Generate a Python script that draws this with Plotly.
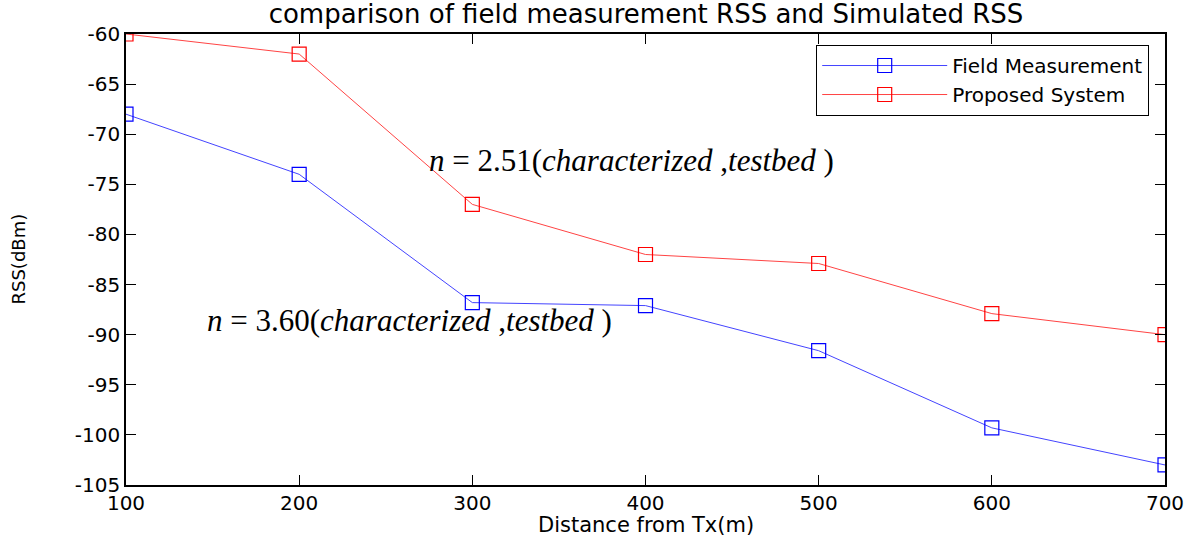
import plotly.graph_objects as go

distance = [100, 200, 300, 400, 500, 600, 700]
field_rss = [-68, -74, -86.8, -87.1, -91.6, -99.3, -103]
proposed_rss = [-60, -62, -77, -82, -82.9, -87.9, -90]
x_ticks = [100, 200, 300, 400, 500, 600, 700]
y_ticks = [-60, -65, -70, -75, -80, -85, -90, -95, -100, -105]
y_tick_labels = ["-60", "-65", "-70", "-75", "-80", "-85", "-90", "-95", "-100", "-105"]

SANS = "DejaVu Sans, Arial"
SERIF = "Liberation Serif, Times New Roman"

W, H = 1195, 536

fig = go.Figure()
fig.add_trace(go.Scatter(x=distance, y=field_rss, mode="lines+markers", name="Field Measurement",
                         line=dict(color="#4444ff", width=1),
                         marker=dict(symbol="square-open", size=14, color="#0000ff", line=dict(width=1.2))))
fig.add_trace(go.Scatter(x=distance, y=proposed_rss, mode="lines+markers", name="Proposed System",
                         line=dict(color="#ff4444", width=1),
                         marker=dict(symbol="square-open", size=14, color="#ff0000", line=dict(width=1.2))))

axis_common = dict(showline=True, linecolor="black", linewidth=1.5, mirror="ticks", ticks="inside",
                   ticklen=10, tickcolor="black", showgrid=False, zeroline=False,
                   tickfont=dict(family=SANS, size=20, color="black"))
fig.update_xaxes(range=[100, 700], tickvals=x_ticks, ticktext=[str(v) for v in x_ticks],
                 ticklabelstandoff=-1, **axis_common)
fig.update_yaxes(range=[-105, -60], tickvals=y_ticks, ticktext=y_tick_labels, **axis_common)

# axis titles
fig.add_annotation(x=0.5, y=0, xref="paper", yref="paper", yanchor="middle", yshift=-40, showarrow=False,
                   text="Distance from Tx(m)", font=dict(family=SANS, size=21, color="black"))
fig.add_annotation(x=0, y=0.5, xref="paper", yref="paper", xanchor="center", xshift=-108, showarrow=False,
                   textangle=-90, text="RSS(dBm)", font=dict(family=SANS, size=18, color="black"))

ann_font = dict(family=SERIF, size=31, color="black")
fig.add_annotation(x=392, y=-72.6, showarrow=False, font=ann_font,
                   text="<i>n</i> = 2.51(<i>characterized</i> ,<i>testbed</i> )")
fig.add_annotation(x=264, y=-88.6, showarrow=False, font=ann_font,
                   text="<i>n</i> = 3.60(<i>characterized</i> ,<i>testbed</i> )")

fig.update_layout(
    width=W, height=H,
    margin=dict(l=126, r=30, t=34, b=51),
    paper_bgcolor="white", plot_bgcolor="white",
    title=dict(text="comparison of field measurement RSS and Simulated RSS", x=646 / W, xanchor="center",
               y=1 - (14 / H), yanchor="middle", font=dict(family=SANS, size=26, color="black")),
    legend=dict(x=0.9846, y=0.976, xanchor="right", yanchor="top", bordercolor="black", borderwidth=1.2,
                bgcolor="white", font=dict(family=SANS, size=20, color="black"),
                itemwidth=125, tracegroupgap=0),
    showlegend=True,
)

fig.write_html("out.html", config={"displayModeBar": False},
               post_script="document.body.style.margin='0';")
